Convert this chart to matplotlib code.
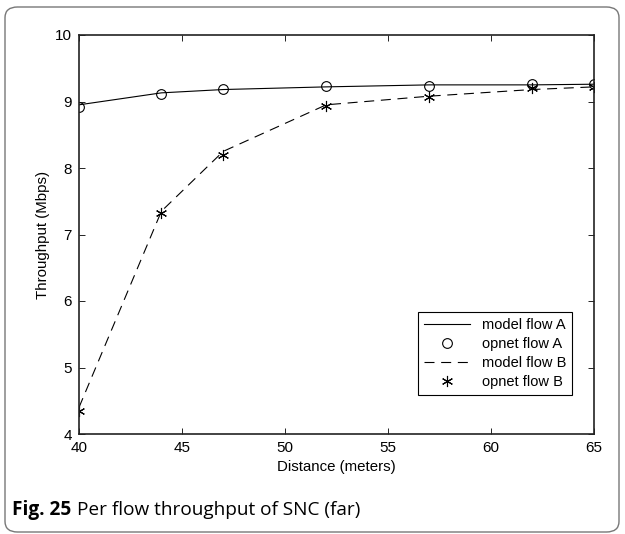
import matplotlib
matplotlib.use("Agg")
import matplotlib.pyplot as plt
from matplotlib.patches import FancyBboxPatch

# distances (meters)
distance = [40, 44, 47, 52, 57, 62, 65]

# throughput (Mbps)
model_a = [8.95, 9.13, 9.18, 9.22, 9.25, 9.25, 9.26]
opnet_a = [8.92, 9.12, 9.19, 9.24, 9.24, 9.26, 9.26]
model_b = [4.40, 7.35, 8.25, 8.95, 9.08, 9.18, 9.22]
opnet_b = [4.35, 7.32, 8.19, 8.93, 9.07, 9.20, 9.22]

xticks = [40, 45, 50, 55, 60, 65]
yticks = [4, 5, 6, 7, 8, 9, 10]

plt.rcParams["font.family"] = ["Liberation Sans", "DejaVu Sans"]

fig = plt.figure(figsize=(6.25, 5.34), dpi=100)

# rounded frame around figure + caption
frame = FancyBboxPatch((5 / 625, 2 / 534), 614 / 625, 525 / 534,
                       boxstyle="round,pad=0,rounding_size=0.02",
                       transform=fig.transFigure, fill=False,
                       edgecolor="#777777", linewidth=1.0)
fig.patches.append(frame)
fig.text(12 / 625, 1 - 510 / 534, "Fig. 25", fontweight="bold", fontsize=13.7,
         family=["Open Sans", "DejaVu Sans"], va="center")
fig.text(77 / 625, 1 - 510 / 534, "Per flow throughput of SNC (far)", fontsize=13.7,
         family=["Open Sans", "DejaVu Sans"], va="center")

ax = fig.add_axes([79 / 625, 100 / 534, 515 / 625, 399 / 534])

ax.plot(distance, model_a, "-", color="black", linewidth=0.8, label="model flow A")
ax.plot(distance, opnet_a, "o", color="black", markerfacecolor="none",
        markersize=7, markeredgewidth=0.8, label="opnet flow A")
ax.plot(distance, model_b, "--", color="black", linewidth=0.8,
        dashes=(9, 6), label="model flow B")
ax.plot(distance, opnet_b, marker=(6, 2, 0), linestyle="none", color="black",
        markersize=8, markeredgewidth=0.8, label="opnet flow B")

ax.set_xlim(40, 65)
ax.set_ylim(4, 10)
ax.set_xticks(xticks)
ax.set_yticks(yticks)
ax.tick_params(direction="in", top=True, right=True, labelsize=11, length=4,
               width=0.6, pad=5)
for s in ax.spines.values():
    s.set_linewidth(1.2)
    s.set_color("#222222")

ax.set_xlabel("Distance (meters)", fontsize=10.8)
ax.set_ylabel("Throughput (Mbps)", fontsize=10.8)

leg = ax.legend(loc="upper left", bbox_to_anchor=(418 / 625, 1 - 312 / 534),
                bbox_transform=fig.transFigure, borderaxespad=0, fontsize=10.5,
                fancybox=False, edgecolor="black", framealpha=1,
                handlelength=3.2, labelspacing=0.35, borderpad=0.4)
leg.get_frame().set_linewidth(0.8)

fig.savefig("out.png", dpi=100)
